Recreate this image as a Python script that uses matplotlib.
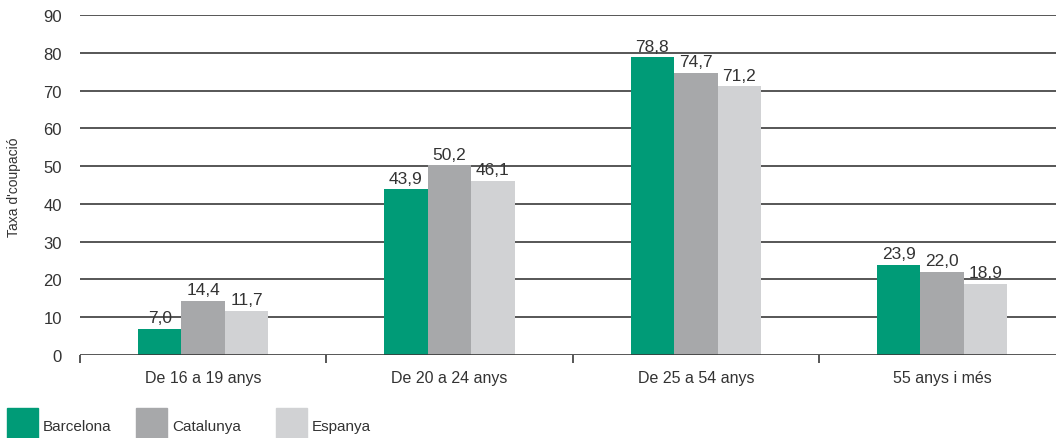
import matplotlib
matplotlib.use("Agg")
import matplotlib.pyplot as plt
from matplotlib.patches import Rectangle
import numpy as np

categories = ["De 16 a 19 anys", "De 20 a 24 anys", "De 25 a 54 anys", "55 anys i més"]
series_names = ["Barcelona", "Catalunya", "Espanya"]
barcelona = [7.0, 43.9, 78.8, 23.9]
catalunya = [14.4, 50.2, 74.7, 22.0]
espanya = [11.7, 46.1, 71.2, 18.9]
yticks = [0, 10, 20, 30, 40, 50, 60, 70, 80, 90]
ylabel = "Taxa d'coupació"

colors = ["#009B77", "#A7A8AA", "#D1D2D4"]
text_color = "#333333"
plt.rcParams['font.family'] = ['Liberation Sans', 'DejaVu Sans']

W, H = 1056, 439
fig = plt.figure(figsize=(W / 100, H / 100), dpi=100)
ax_left, ax_right, ax_bottom, ax_top = 80, 1056, 356, 16
ax = fig.add_axes([ax_left / W, 1 - ax_bottom / H, (ax_right - ax_left) / W, (ax_bottom - ax_top) / H])

unit = 246.3
x = np.arange(len(categories))
bw = 43.5 / unit
for i, (vals, c) in enumerate(zip([barcelona, catalunya, espanya], colors)):
    pos = x + (i - 1) * bw
    ax.bar(pos, vals, width=bw, color=c, zorder=3)
    for p, v in zip(pos, vals):
        ax.annotate(f"{v:.1f}".replace(".", ","), (p, v), xytext=(0, 2.5), textcoords="offset points",
                    ha="center", va="bottom", fontsize=12.5, color=text_color, zorder=4)

ax.set_xlim(-0.5, -0.5 + (ax_right - ax_left) / unit)
ax.set_ylim(0, 90)
ax.set_yticks(yticks)
ax.set_yticklabels([str(t) for t in yticks], fontsize=12, color=text_color)
for t in yticks[1:]:
    ax.axhline(t, color="#3a3a3a", lw=1.2, zorder=1)
ax.axhline(0, color="#3a3a3a", lw=1.2, zorder=4)
ax.tick_params(axis="y", length=0, pad=13)

ax.set_xticks(x)
ax.set_xticklabels(categories, fontsize=11.5, color=text_color)
ax.tick_params(axis="x", length=0, pad=11)
ax.set_xticks(np.arange(len(categories)) - 0.5, minor=True)
ax.tick_params(axis="x", which="minor", length=6, width=1.2, color="#3a3a3a", direction="out")

for s in ax.spines.values():
    s.set_visible(False)

fig.text(14 / W, 1 - 187 / H, ylabel, rotation=90, ha="center", va="center", fontsize=10, color=text_color)

# legend
leg_x = [7, 136, 276]
for name, c, lx in zip(series_names, colors, leg_x):
    fig.patches.append(Rectangle((lx / W, 1 - 439 / H), 31 / W, 30 / H, transform=fig.transFigure,
                                 color=c, figure=fig))
    fig.text((lx + 36) / W, 1 - 427 / H, name, ha="left", va="center", fontsize=11, color=text_color)

fig.savefig("out.png", dpi=100)
